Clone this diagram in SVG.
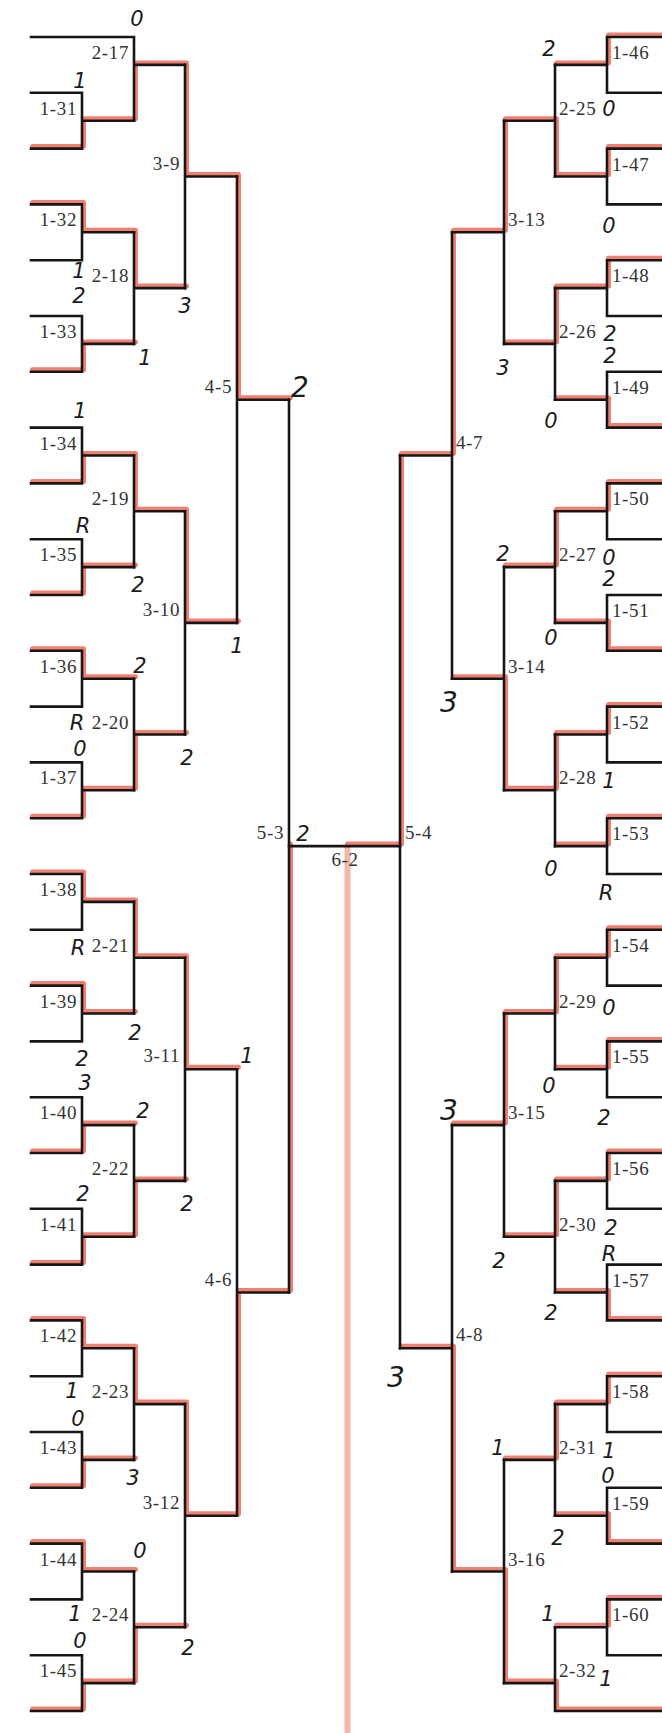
<svg xmlns="http://www.w3.org/2000/svg" width="662" height="1733" viewBox="0 0 662 1733">
<style>
.bk{fill:none;stroke:#161616;stroke-width:2.6;stroke-linecap:square}
.rd{fill:none;stroke:#ef6a5a;stroke-width:5;stroke-opacity:0.85;stroke-linejoin:round;stroke-linecap:round}
.ctr{fill:none;stroke:#f4a396;stroke-width:6;stroke-opacity:0.8}
.lb{font-family:"Liberation Serif","DejaVu Serif",serif;font-size:19px;fill:#333;letter-spacing:0.6px}
.le{text-anchor:end}
.hw{font-family:"DejaVu Sans","Liberation Sans",sans-serif;font-style:oblique;font-size:21px;fill:#1c1c1c;text-anchor:middle}
.hb{font-size:28px}
</style>
<rect width="662" height="1733" fill="#fff"/>
<g id="connectors">
<g id="winner-paths" transform="translate(1.5,-2)">
<path class="ctr" d="M346 848V1735"/>
<path class="rd" d="M31 148.6H82V120.7H134V64.9H185V176.5H237V399.7H289"/>
<path class="rd" d="M31 204.4H82V232.3H134V288.1H185"/>
<path class="rd" d="M31 371.8H82V343.9H134"/>
<path class="rd" d="M31 483.4H82V455.5H134V511.3H185V622.9H237"/>
<path class="rd" d="M31 595H82V567.1H134"/>
<path class="rd" d="M31 650.8H82V678.7H134"/>
<path class="rd" d="M31 818.2H82V790.3H134V734.5H185"/>
<path class="rd" d="M31 874H82V901.9H134V957.7H185V1069.3H237"/>
<path class="rd" d="M31 985.6H82V1013.5H134"/>
<path class="rd" d="M31 1153H82V1125.1H134"/>
<path class="rd" d="M31 1264.6H82V1236.7H134V1180.9H185"/>
<path class="rd" d="M31 1320.4H82V1348.3H134V1404.1H185V1515.7H237V1292.5H289V846.1"/>
<path class="rd" d="M31 1487.8H82V1459.9H134"/>
<path class="rd" d="M31 1543.6H82V1571.5H134"/>
<path class="rd" d="M31 1711H82V1683.1H134V1627.3H185"/>
<path class="rd" d="M662 37H607V64.9H555"/>
<path class="rd" d="M662 148.6H607V176.5H555V120.7H504V232.3H452V455.5H400V846.1H346"/>
<path class="rd" d="M662 260.2H607V288.1H555V343.9H504"/>
<path class="rd" d="M662 427.6H607V399.7H555"/>
<path class="rd" d="M662 483.4H607V511.3H555V567.1H504"/>
<path class="rd" d="M662 650.8H607V622.9H555"/>
<path class="rd" d="M662 706.6H607V734.5H555V790.3H504V678.7H452"/>
<path class="rd" d="M662 818.2H607V846.1H555"/>
<path class="rd" d="M662 929.8H607V957.7H555V1013.5H504V1125.1H452"/>
<path class="rd" d="M662 1041.4H607V1069.3H555"/>
<path class="rd" d="M662 1153H607V1180.9H555V1236.7H504"/>
<path class="rd" d="M662 1320.4H607V1292.5H555"/>
<path class="rd" d="M662 1376.2H607V1404.1H555V1459.9H504"/>
<path class="rd" d="M662 1543.6H607V1515.7H555"/>
<path class="rd" d="M662 1599.4H607V1627.3H555"/>
<path class="rd" d="M662 1711H555V1683.1H504V1571.5H452V1348.3H400"/>
</g>
<g id="bracket-lines">
<path class="bk" d="M31 92.8H82V148.6H31M82 120.7H134"/>
<path class="bk" d="M31 204.4H82V260.2H31M82 232.3H134"/>
<path class="bk" d="M31 316H82V371.8H31M82 343.9H134"/>
<path class="bk" d="M31 427.6H82V483.4H31M82 455.5H134"/>
<path class="bk" d="M31 539.2H82V595H31M82 567.1H134"/>
<path class="bk" d="M31 650.8H82V706.6H31M82 678.7H134"/>
<path class="bk" d="M31 762.4H82V818.2H31M82 790.3H134"/>
<path class="bk" d="M31 874H82V929.8H31M82 901.9H134"/>
<path class="bk" d="M31 985.6H82V1041.4H31M82 1013.5H134"/>
<path class="bk" d="M31 1097.2H82V1153H31M82 1125.1H134"/>
<path class="bk" d="M31 1208.8H82V1264.6H31M82 1236.7H134"/>
<path class="bk" d="M31 1320.4H82V1376.2H31M82 1348.3H134"/>
<path class="bk" d="M31 1432H82V1487.8H31M82 1459.9H134"/>
<path class="bk" d="M31 1543.6H82V1599.4H31M82 1571.5H134"/>
<path class="bk" d="M31 1655.2H82V1711H31M82 1683.1H134"/>
<path class="bk" d="M31 37H134V120.7M134 64.9H185"/>
<path class="bk" d="M134 232.3V343.9M134 288.1H185"/>
<path class="bk" d="M134 455.5V567.1M134 511.3H185"/>
<path class="bk" d="M134 678.7V790.3M134 734.5H185"/>
<path class="bk" d="M134 901.9V1013.5M134 957.7H185"/>
<path class="bk" d="M134 1125.1V1236.7M134 1180.9H185"/>
<path class="bk" d="M134 1348.3V1459.9M134 1404.1H185"/>
<path class="bk" d="M134 1571.5V1683.1M134 1627.3H185"/>
<path class="bk" d="M185 64.9V288.1M185 176.5H237"/>
<path class="bk" d="M185 511.3V734.5M185 622.9H237"/>
<path class="bk" d="M185 957.7V1180.9M185 1069.3H237"/>
<path class="bk" d="M185 1404.1V1627.3M185 1515.7H237"/>
<path class="bk" d="M237 176.5V622.9M237 399.7H289"/>
<path class="bk" d="M237 1069.3V1515.7M237 1292.5H289"/>
<path class="bk" d="M289 399.7V1292.5"/>
<path class="bk" d="M289 846.1H400"/>
<path class="bk" d="M400 455.5V1348.3"/>
<path class="bk" d="M452 232.3V678.7M452 455.5H400"/>
<path class="bk" d="M452 1125.1V1571.5M452 1348.3H400"/>
<path class="bk" d="M504 120.7V343.9M504 232.3H452"/>
<path class="bk" d="M504 567.1V790.3M504 678.7H452"/>
<path class="bk" d="M504 1013.5V1236.7M504 1125.1H452"/>
<path class="bk" d="M504 1459.9V1683.1M504 1571.5H452"/>
<path class="bk" d="M555 64.9V176.5M555 120.7H504"/>
<path class="bk" d="M555 288.1V399.7M555 343.9H504"/>
<path class="bk" d="M555 511.3V622.9M555 567.1H504"/>
<path class="bk" d="M555 734.5V846.1M555 790.3H504"/>
<path class="bk" d="M555 957.7V1069.3M555 1013.5H504"/>
<path class="bk" d="M555 1180.9V1292.5M555 1236.7H504"/>
<path class="bk" d="M555 1404.1V1515.7M555 1459.9H504"/>
<path class="bk" d="M662 1711H555V1627.3M555 1683.1H504"/>
<path class="bk" d="M662 37H607V92.8H662M607 64.9H555"/>
<path class="bk" d="M662 148.6H607V204.4H662M607 176.5H555"/>
<path class="bk" d="M662 260.2H607V316H662M607 288.1H555"/>
<path class="bk" d="M662 371.8H607V427.6H662M607 399.7H555"/>
<path class="bk" d="M662 483.4H607V539.2H662M607 511.3H555"/>
<path class="bk" d="M662 595H607V650.8H662M607 622.9H555"/>
<path class="bk" d="M662 706.6H607V762.4H662M607 734.5H555"/>
<path class="bk" d="M662 818.2H607V874H662M607 846.1H555"/>
<path class="bk" d="M662 929.8H607V985.6H662M607 957.7H555"/>
<path class="bk" d="M662 1041.4H607V1097.2H662M607 1069.3H555"/>
<path class="bk" d="M662 1153H607V1208.8H662M607 1180.9H555"/>
<path class="bk" d="M662 1264.6H607V1320.4H662M607 1292.5H555"/>
<path class="bk" d="M662 1376.2H607V1432H662M607 1404.1H555"/>
<path class="bk" d="M662 1487.8H607V1543.6H662M607 1515.7H555"/>
<path class="bk" d="M662 1599.4H607V1655.2H662M607 1627.3H555"/>
</g>
</g>
<g id="m1-31"><text class="lb le" x="77" y="114.8">1-31</text></g>
<g id="m1-32"><text class="lb le" x="77" y="226.4">1-32</text></g>
<g id="m1-33"><text class="lb le" x="77" y="338">1-33</text></g>
<g id="m1-34"><text class="lb le" x="77" y="449.6">1-34</text></g>
<g id="m1-35"><text class="lb le" x="77" y="561.2">1-35</text></g>
<g id="m1-36"><text class="lb le" x="77" y="672.8">1-36</text></g>
<g id="m1-37"><text class="lb le" x="77" y="784.4">1-37</text></g>
<g id="m1-38"><text class="lb le" x="77" y="896">1-38</text></g>
<g id="m1-39"><text class="lb le" x="77" y="1007.6">1-39</text></g>
<g id="m1-40"><text class="lb le" x="77" y="1119.2">1-40</text></g>
<g id="m1-41"><text class="lb le" x="77" y="1230.8">1-41</text></g>
<g id="m1-42"><text class="lb le" x="77" y="1342.4">1-42</text></g>
<g id="m1-43"><text class="lb le" x="77" y="1454">1-43</text></g>
<g id="m1-44"><text class="lb le" x="77" y="1565.6">1-44</text></g>
<g id="m1-45"><text class="lb le" x="77" y="1677.2">1-45</text></g>
<g id="m2-17"><text class="lb le" x="129" y="58.9">2-17</text></g>
<g id="m2-18"><text class="lb le" x="129" y="282.1">2-18</text></g>
<g id="m2-19"><text class="lb le" x="129" y="505.3">2-19</text></g>
<g id="m2-20"><text class="lb le" x="129" y="728.5">2-20</text></g>
<g id="m2-21"><text class="lb le" x="129" y="951.7">2-21</text></g>
<g id="m2-22"><text class="lb le" x="129" y="1174.9">2-22</text></g>
<g id="m2-23"><text class="lb le" x="129" y="1398.1">2-23</text></g>
<g id="m2-24"><text class="lb le" x="129" y="1621.3">2-24</text></g>
<g id="m3-9"><text class="lb le" x="180" y="169.5">3-9</text></g>
<g id="m3-10"><text class="lb le" x="180" y="615.9">3-10</text></g>
<g id="m3-11"><text class="lb le" x="180" y="1062.3">3-11</text></g>
<g id="m3-12"><text class="lb le" x="180" y="1508.7">3-12</text></g>
<g id="m4-5"><text class="lb le" x="232" y="392.7">4-5</text></g>
<g id="m4-6"><text class="lb le" x="232" y="1285.5">4-6</text></g>
<g id="m5-3"><text class="lb le" x="284" y="839">5-3</text></g>
<g id="m6-2"><text class="lb" x="345" y="866" text-anchor="middle">6-2</text></g>
<g id="m5-4"><text class="lb" x="405" y="839">5-4</text></g>
<g id="m4-7"><text class="lb" x="456" y="448.5">4-7</text></g>
<g id="m4-8"><text class="lb" x="456" y="1341.3">4-8</text></g>
<g id="m3-13"><text class="lb" x="508" y="226.3">3-13</text></g>
<g id="m3-14"><text class="lb" x="508" y="672.7">3-14</text></g>
<g id="m3-15"><text class="lb" x="508" y="1119.1">3-15</text></g>
<g id="m3-16"><text class="lb" x="508" y="1565.5">3-16</text></g>
<g id="m2-25"><text class="lb" x="559" y="114.7">2-25</text></g>
<g id="m2-26"><text class="lb" x="559" y="337.9">2-26</text></g>
<g id="m2-27"><text class="lb" x="559" y="561.1">2-27</text></g>
<g id="m2-28"><text class="lb" x="559" y="784.3">2-28</text></g>
<g id="m2-29"><text class="lb" x="559" y="1007.5">2-29</text></g>
<g id="m2-30"><text class="lb" x="559" y="1230.7">2-30</text></g>
<g id="m2-31"><text class="lb" x="559" y="1453.9">2-31</text></g>
<g id="m2-32"><text class="lb" x="559" y="1677.1">2-32</text></g>
<g id="m1-46"><text class="lb" x="612" y="59">1-46</text></g>
<g id="m1-47"><text class="lb" x="612" y="170.6">1-47</text></g>
<g id="m1-48"><text class="lb" x="612" y="282.2">1-48</text></g>
<g id="m1-49"><text class="lb" x="612" y="393.8">1-49</text></g>
<g id="m1-50"><text class="lb" x="612" y="505.4">1-50</text></g>
<g id="m1-51"><text class="lb" x="612" y="617">1-51</text></g>
<g id="m1-52"><text class="lb" x="612" y="728.6">1-52</text></g>
<g id="m1-53"><text class="lb" x="612" y="840.2">1-53</text></g>
<g id="m1-54"><text class="lb" x="612" y="951.8">1-54</text></g>
<g id="m1-55"><text class="lb" x="612" y="1063.4">1-55</text></g>
<g id="m1-56"><text class="lb" x="612" y="1175">1-56</text></g>
<g id="m1-57"><text class="lb" x="612" y="1286.6">1-57</text></g>
<g id="m1-58"><text class="lb" x="612" y="1398.2">1-58</text></g>
<g id="m1-59"><text class="lb" x="612" y="1509.8">1-59</text></g>
<g id="m1-60"><text class="lb" x="612" y="1621.4">1-60</text></g>
<g id="scores">
<text class="hw" x="137" y="26">0</text>
<text class="hw" x="80" y="88">1</text>
<text class="hw" x="79" y="278">1</text>
<text class="hw" x="79" y="303">2</text>
<text class="hw" x="185" y="313">3</text>
<text class="hw" x="145" y="365">1</text>
<text class="hw hb" x="300" y="397">2</text>
<text class="hw" x="80" y="418">1</text>
<text class="hw" x="83" y="533">R</text>
<text class="hw" x="138" y="592">2</text>
<text class="hw" x="237" y="653">1</text>
<text class="hw" x="140" y="673">2</text>
<text class="hw" x="77" y="730">R</text>
<text class="hw" x="80" y="756">0</text>
<text class="hw" x="187" y="765">2</text>
<text class="hw" x="303" y="841">2</text>
<text class="hw" x="78" y="955">R</text>
<text class="hw" x="135" y="1040">2</text>
<text class="hw" x="82" y="1066">2</text>
<text class="hw" x="85" y="1090">3</text>
<text class="hw" x="247" y="1063">1</text>
<text class="hw" x="143" y="1118">2</text>
<text class="hw" x="83" y="1201">2</text>
<text class="hw" x="187" y="1211">2</text>
<text class="hw" x="72" y="1398">1</text>
<text class="hw" x="78" y="1426">0</text>
<text class="hw" x="133" y="1485">3</text>
<text class="hw" x="140" y="1558">0</text>
<text class="hw" x="75" y="1621">1</text>
<text class="hw" x="80" y="1648">0</text>
<text class="hw" x="188" y="1655">2</text>
<text class="hw" x="549" y="56">2</text>
<text class="hw" x="609" y="116">0</text>
<text class="hw" x="609" y="233">0</text>
<text class="hw" x="610" y="341">2</text>
<text class="hw" x="610" y="363">2</text>
<text class="hw" x="503" y="375">3</text>
<text class="hw" x="551" y="428">0</text>
<text class="hw" x="503" y="561">2</text>
<text class="hw" x="609" y="565">0</text>
<text class="hw" x="609" y="586">2</text>
<text class="hw" x="551" y="645">0</text>
<text class="hw hb" x="449" y="712">3</text>
<text class="hw" x="609" y="788">1</text>
<text class="hw" x="551" y="876">0</text>
<text class="hw" x="606" y="900">R</text>
<text class="hw" x="609" y="1015">0</text>
<text class="hw" x="549" y="1093">0</text>
<text class="hw" x="604" y="1125">2</text>
<text class="hw hb" x="449" y="1120">3</text>
<text class="hw" x="611" y="1235">2</text>
<text class="hw" x="609" y="1261">R</text>
<text class="hw" x="499" y="1268">2</text>
<text class="hw" x="551" y="1320">2</text>
<text class="hw hb" x="396" y="1387">3</text>
<text class="hw" x="498" y="1455">1</text>
<text class="hw" x="609" y="1458">1</text>
<text class="hw" x="608" y="1483">0</text>
<text class="hw" x="558" y="1545">2</text>
<text class="hw" x="548" y="1621">1</text>
<text class="hw" x="606" y="1686">1</text>
</g>
</svg>
